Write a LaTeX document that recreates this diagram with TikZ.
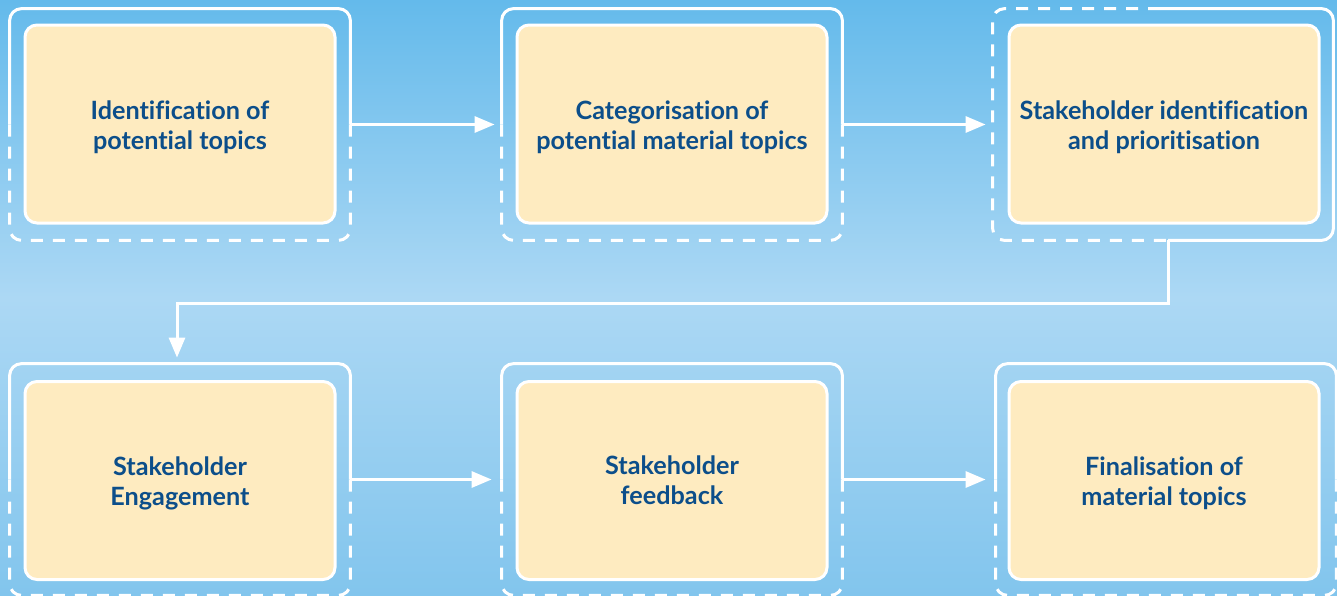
\documentclass[tikz,border=0pt]{standalone}
\usepackage{fontspec}
\setmainfont{Lato}[Ligatures=NoCommon]
\usetikzlibrary{arrows.meta,calc}
\definecolor{skytop}{RGB}{100,186,235}
\definecolor{skymid}{RGB}{172,216,244}
\definecolor{skybot}{RGB}{130,197,237}
\definecolor{cream}{RGB}{254,235,192}
\definecolor{navy}{RGB}{12,78,138}
\tikzset{
  frame/.style={minimum width=170pt,minimum height=115.5pt,inner sep=0pt},
  stepbox/.style={draw=white,line width=1.5pt,fill=cream,rounded corners=6pt,
    minimum width=155pt,minimum height=99pt,inner sep=0pt},
  steptext/.style={align=center,text=navy,inner sep=0pt,yshift=-1.5pt,
    font=\bfseries\fontsize{12.6}{15}\selectfont},
  solidedge/.style={draw=white,line width=1.5pt,rounded corners=6pt},
  dashedge/.style={draw=white,line width=1.5pt,rounded corners=6pt,dash pattern=on 6pt off 5pt},
  conn/.style={draw=white,line width=1.5pt,-{Triangle[length=10pt,width=8pt]}}
}
\begin{document}
\begin{tikzpicture}[x=0.5pt,y=-0.5pt]
\useasboundingbox (0,0) rectangle (1337,595);
\shade[top color=skytop,bottom color=skybot,middle color=skymid] (0,0) rectangle (1337,595);
% frames
\node[frame] (f1) at (180,124.5) {};
\node[frame] (f2) at (672,124.5) {};
\node[frame] (f3) at (1163,124.5) {};
\node[frame] (f4) at (180,479.5) {};
\node[frame] (f5) at (672,479.5) {};
\node[frame] (f6) at (1166,479.5) {};
% inner boxes
\node[stepbox,label={[steptext]center:{Identification of\\potential topics}}] (b1) at (180,124) {};
\node[stepbox,label={[steptext]center:{Categorisation of\\potential material topics}}] (b2) at (672,124) {};
\node[stepbox,label={[steptext]center:{Stakeholder identification\\and prioritisation}}] (b3) at (1164,124) {};
\node[stepbox,label={[steptext]center:{Stakeholder\\Engagement}}] (b4) at (180,480.5) {};
\node[stepbox,label={[steptext]center:{Stakeholder\\feedback\rule[-3pt]{0pt}{3pt}}}] (b5) at (672,480.5) {};
\node[stepbox,label={[steptext]center:{Finalisation of\\material topics}}] (b6) at (1164,480.5) {};
% frame outlines
\foreach \f in {f1,f2,f4,f5,f6}{
  \draw[solidedge] (\f.west) |- (\f.north) -| (\f.east);
  \draw[dashedge] (\f.west) |- (\f.south) -| (\f.east);
}
\coordinate (t3) at ([xshift=-1.5pt]f3.north);
\coordinate (s3) at ([xshift=2.5pt]f3.south);
\draw[solidedge] (t3) -| (f3.east) |- (s3);
\draw[dashedge] (t3) -| (f3.west) |- (s3);
% connectors
\draw[conn,shorten >=3.5pt] (f1.east) -- (f2.west);
\draw[conn,shorten >=3.5pt] (f2.east) -- (f3.west);
\coordinate (bend) at (177,303);
\draw[conn,shorten >=3pt] (s3) |- (bend) -- ([xshift=-1.5pt]f4.north);
\draw[conn,shorten >=5pt] (f4.east) -- (f5.west);
\draw[conn,shorten >=5pt] (f5.east) -- (f6.west);
\end{tikzpicture}
\end{document}
